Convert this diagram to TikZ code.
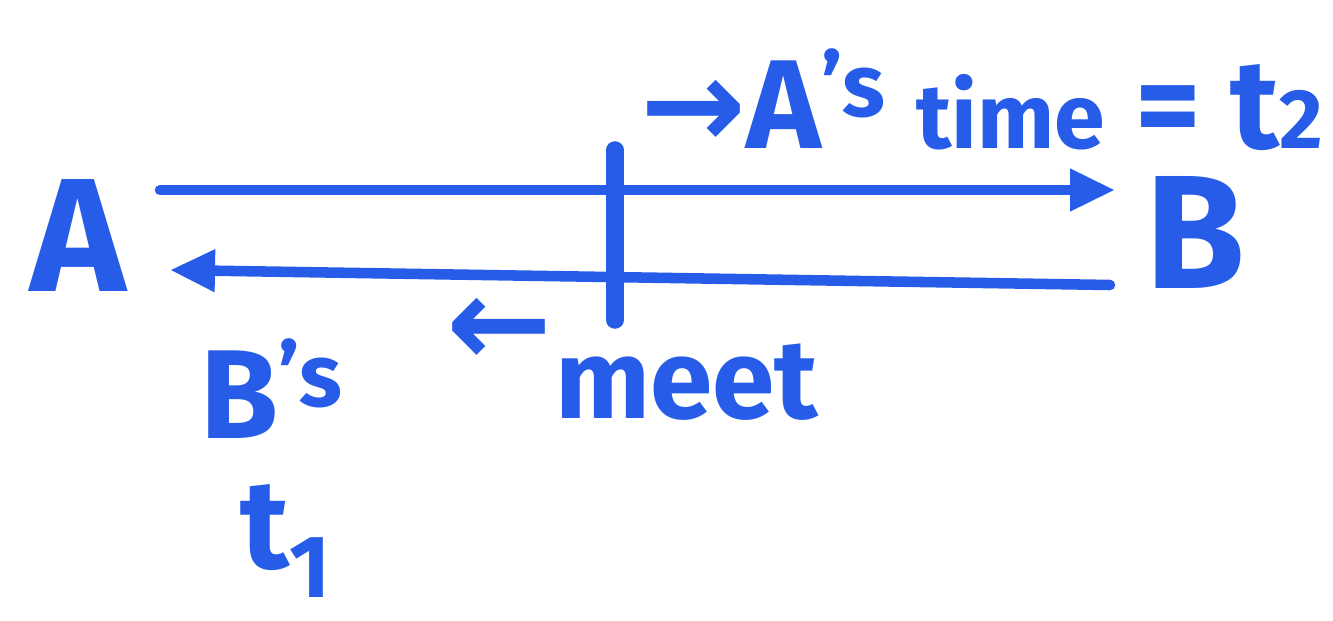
\documentclass[tikz,border=0pt]{standalone}
\usepackage{fontspec}
\setmainfont{Fira Sans}
\newfontfamily\arrowfont{DejaVu Sans}
\usetikzlibrary{arrows.meta, positioning}
\definecolor{penblue}{RGB}{38,92,232}

\begin{document}
\begin{tikzpicture}[
            >={Triangle[length=4.5mm, width=4mm]},
            line cap=round,
            ink/.style={draw=penblue, line width=3pt},
            meet mark/.style={draw=penblue, line width=5pt},
            point label/.style={text=penblue, font=\bfseries\fontsize{46}{50}\selectfont, inner sep=0pt},
            note/.style={text=penblue, font=\bfseries\fontsize{36}{40}\selectfont, inner sep=0pt},
        ]
        \useasboundingbox (0,0) rectangle (13.33,6.2);

        \node[point label] (A) at (0.78,3.85) {A};
        \node[point label] (B) at (11.95,3.88) {B};

        \coordinate (a top) at (1.60,4.30);
        \coordinate (b top) at (11.15,4.30);
        \coordinate (b bot) at (11.10,3.35);
        \coordinate (a bot) at (1.70,3.50);
        \coordinate (meet top) at (6.15,4.70);
        \coordinate (meet bot) at (6.15,3.00);

        \draw[ink, ->] (a top) -- (b top);
        \draw[ink, ->] (b bot) -- (a bot);
        \draw[meet mark] (meet top) -- (meet bot);

        \node[note, anchor=base west] (atime) at (6.40,4.72)
            {{\arrowfont →}A\textsuperscript{'s} {\fontsize{26}{28}\selectfont time} = t{\fontsize{24}{26}\selectfont 2}};
        \node[note, anchor=base west] (bs) at (2.00,1.82) {B\textsuperscript{'s}};
        \node[note, anchor=base west] (t1) at (2.40,0.52) {t\textsubscript{1}};
        \node[note, anchor=center] (meet arrow) at (5.00,2.88) {\arrowfont ←};
        \node[note, font=\bfseries\fontsize{32}{36}\selectfont, anchor=base west] (meet) at (5.55,2.02) {meet};
\end{tikzpicture}
\end{document}
